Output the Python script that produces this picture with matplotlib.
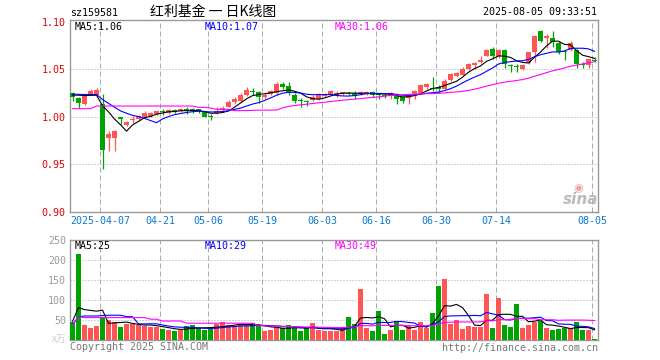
import pandas as pd
import matplotlib
matplotlib.use('Agg')
import matplotlib.pyplot as plt

plt.rcParams['font.family'] = ['DejaVu Sans Mono', 'Noto Sans CJK SC']

# tick dates and the bar they sit on
tick_labels = ['2025-04-07', '04-21', '05-06', '05-19', '06-03', '06-16', '06-30', '07-14', '08-05']
tick_bars = [5, 15, 23, 32, 42, 51, 61, 71, 87]

open_ = [1.0253, 1.0193, 1.0134, 1.0239, 1.0228, 1.0134, 0.9780, 0.9780, 0.9993, 0.9916,
         0.9965, 0.9972, 0.9993, 1.0007, 1.0028, 1.0063, 1.0042, 1.0070, 1.0056, 1.0084,
         1.0077, 1.0077, 1.0056, 1.0011, 1.0042, 1.0070, 1.0105, 1.0150, 1.0168, 1.0224,
         1.0274, 1.0260, 1.0211, 1.0240, 1.0253, 1.0344, 1.0323, 1.0224, 1.0176, 1.0160,
         1.0175, 1.0190, 1.0218, 1.0224, 1.0232, 1.0239, 1.0250, 1.0246, 1.0239, 1.0239,
         1.0260, 1.0239, 1.0232, 1.0218, 1.0232, 1.0203, 1.0197, 1.0239, 1.0246, 1.0309,
         1.0302, 1.0316, 1.0290, 1.0386, 1.0428, 1.0442, 1.0502, 1.0544, 1.0572, 1.0642,
         1.0712, 1.0642, 1.0698, 1.0537, 1.0537, 1.0502, 1.0565, 1.0677, 1.0900, 1.0825,
         1.0830, 1.0776, 1.0684, 1.0698, 1.0705, 1.0551, 1.0544, 1.0597]
high = [1.0263, 1.0203, 1.0238, 1.0288, 1.0298, 1.0240, 0.9845, 0.9860, 1.0000, 0.9958,
        1.0010, 1.0021, 1.0056, 1.0053, 1.0063, 1.0084, 1.0084, 1.0084, 1.0095, 1.0098,
        1.0091, 1.0084, 1.0063, 1.0028, 1.0098, 1.0112, 1.0172, 1.0211, 1.0245, 1.0309,
        1.0302, 1.0274, 1.0253, 1.0280, 1.0365, 1.0365, 1.0365, 1.0253, 1.0196, 1.0175,
        1.0224, 1.0245, 1.0253, 1.0280, 1.0274, 1.0263, 1.0260, 1.0274, 1.0274, 1.0274,
        1.0274, 1.0246, 1.0246, 1.0260, 1.0246, 1.0218, 1.0253, 1.0281, 1.0344, 1.0358,
        1.0421, 1.0330, 1.0393, 1.0463, 1.0470, 1.0519, 1.0565, 1.0579, 1.0635, 1.0712,
        1.0733, 1.0712, 1.0712, 1.0558, 1.0558, 1.0551, 1.0677, 1.0860, 1.0915, 1.0867,
        1.0897, 1.0797, 1.0690, 1.0797, 1.0712, 1.0579, 1.0607, 1.0628]
low = [1.0170, 1.0095, 1.0125, 1.0232, 1.0221, 0.9450, 0.9640, 0.9635, 0.9920, 0.9905,
       0.9930, 0.9970, 0.9986, 1.0000, 1.0020, 1.0021, 1.0028, 1.0035, 1.0050, 1.0030,
       1.0035, 1.0035, 0.9993, 0.9965, 1.0028, 1.0056, 1.0098, 1.0133, 1.0150, 1.0217,
       1.0232, 1.0147, 1.0189, 1.0225, 1.0232, 1.0295, 1.0225, 1.0147, 1.0105, 1.0112,
       1.0160, 1.0175, 1.0205, 1.0224, 1.0211, 1.0228, 1.0232, 1.0182, 1.0225, 1.0225,
       1.0205, 1.0182, 1.0197, 1.0182, 1.0133, 1.0147, 1.0133, 1.0190, 1.0239, 1.0291,
       1.0267, 1.0253, 1.0288, 1.0379, 1.0421, 1.0435, 1.0495, 1.0502, 1.0565, 1.0635,
       1.0607, 1.0614, 1.0509, 1.0467, 1.0474, 1.0495, 1.0558, 1.0570, 1.0783, 1.0723,
       1.0730, 1.0660, 1.0592, 1.0690, 1.0512, 1.0509, 1.0509, 1.0572]
close = [1.0204, 1.0140, 1.0228, 1.0274, 1.0281, 0.9653, 0.9818, 0.9850, 0.9972, 0.9944,
         0.9980, 1.0007, 1.0042, 1.0042, 1.0056, 1.0049, 1.0070, 1.0053, 1.0084, 1.0063,
         1.0056, 1.0063, 1.0000, 1.0000, 1.0063, 1.0091, 1.0150, 1.0190, 1.0224, 1.0280,
         1.0263, 1.0210, 1.0232, 1.0267, 1.0344, 1.0309, 1.0253, 1.0168, 1.0165, 1.0151,
         1.0210, 1.0224, 1.0232, 1.0267, 1.0253, 1.0256, 1.0242, 1.0218, 1.0260, 1.0260,
         1.0232, 1.0225, 1.0218, 1.0253, 1.0182, 1.0160, 1.0239, 1.0274, 1.0337, 1.0344,
         1.0288, 1.0288, 1.0379, 1.0450, 1.0456, 1.0505, 1.0550, 1.0565, 1.0593, 1.0698,
         1.0635, 1.0705, 1.0550, 1.0530, 1.0523, 1.0544, 1.0677, 1.0853, 1.0800, 1.0846,
         1.0790, 1.0685, 1.0680, 1.0775, 1.0550, 1.0544, 1.0607, 1.0590]
volume = [44, 215, 37.5, 29, 35, 57, 50, 44, 32.5, 41,
          40, 37.5, 36, 33, 33, 27.5, 25, 22.5, 25, 36,
          37.5, 29, 25, 27.5, 41, 44, 37.5, 36, 37.5, 38,
          41.5, 37.5, 22.5, 25, 33, 29, 38, 29, 22.5, 29,
          42.5, 24, 22.5, 22.5, 22.5, 29, 57, 39, 127.5, 29,
          22.5, 72.5, 15, 25, 47.5, 25, 36, 25, 45, 29,
          67.5, 135, 152.5, 40, 50, 28, 36, 33, 33, 115,
          30, 106, 38, 32, 90, 30, 38, 45, 47.5, 30,
          25, 27, 30, 30, 44, 25, 25, 3]

# moving-average values before enough bars exist
ma5_head = [1.0228, 1.0226, 1.0222, 1.0224]
ma10_head = [1.0235, 1.0235, 1.0233, 1.0233, 1.0233, 1.0180, 1.0140, 1.0100, 1.0060]
ma30_head = [1.0084, 1.0084, 1.0084, 1.0084, 1.0112, 1.0112, 1.0112, 1.0112, 1.0112, 1.0112,
             1.0112, 1.0112, 1.0112, 1.0112, 1.0112, 1.0112, 1.0112, 1.0112, 1.0112, 1.0112,
             1.0112, 1.0098, 1.0098, 1.0091, 1.0077, 1.0077, 1.0077, 1.0063, 1.0063]
vma5_head = [47, 81, 76, 74]
vma10_head = [39, 58, 60, 60, 60, 61, 62, 62, 62]
vma30_head = [37.5, 58, 56, 56, 56, 56, 56, 56, 56, 56,
              56, 56, 56, 52, 52, 47.5, 47.5, 47.5, 47.5, 42,
              42, 42, 42, 42, 42, 42, 42, 42, 42]

RED = '#ff5555'
GREEN = '#00a400'
GRID = '#aaaaaa'


def moving(values, n, head):
    s = pd.Series(values, dtype=float).rolling(n).mean()
    s.iloc[:len(head)] = head
    return s


def frame(ax):
    for sp in ax.spines.values():
        sp.set_color('#999999')
        sp.set_linewidth(1.0)
    ax.tick_params(length=0)
    for b in tick_bars:
        ax.axvline(b - 0.42, color=GRID, lw=0.72, dashes=(5, 3), zorder=1)


n = len(close)
xs = list(range(n))
up = [c >= o for o, c in zip(open_, close)]
colors = [RED if u else GREEN for u in up]

fig = plt.figure(figsize=(6.6, 3.6), dpi=100)
W, H = 660.0, 360.0
ax = fig.add_axes([70 / W, 1 - 212 / H, 528 / W, 192 / H])
axv = fig.add_axes([70 / W, 1 - 340 / H, 528 / W, 100 / H])

# price panel
frame(ax)
for lvl in [0.95, 1.00, 1.05]:
    ax.axhline(lvl, color=GRID, lw=0.72, dashes=(1, 2), zorder=1)
ax.vlines(xs, low, high, colors=colors, lw=0.9, zorder=2)
bottoms = [min(o, c) for o, c in zip(open_, close)]
heights = [max(abs(c - o), 0.0011) for o, c in zip(open_, close)]
ax.bar(xs, heights, bottom=bottoms, width=0.84, color=colors, zorder=3)
ax.plot(xs, moving(close, 5, ma5_head), color='black', lw=0.8, zorder=4)
ax.plot(xs, moving(close, 10, ma10_head), color='#0000ff', lw=0.8, zorder=4)
ax.plot(xs, moving(close, 30, ma30_head), color='#ff00ff', lw=0.8, zorder=4)
ax.set_xlim(-0.42, 87.58)
ax.set_ylim(0.8997, 1.1017)
ax.set_yticks([0.90, 0.95, 1.00, 1.05, 1.10])
ax.set_yticklabels(['0.90', '0.95', '1.00', '1.05', '1.10'], color='#e00000', fontsize=7.2)
ax.set_xticks([b - 0.42 for b in tick_bars])
ax.set_xticklabels(tick_labels, color='#0a78d2', fontsize=7.2)
ax.tick_params(axis='y', pad=3)
ax.tick_params(axis='x', pad=3)

# volume panel
frame(axv)
for lvl in [50, 100, 150, 200]:
    axv.axhline(lvl, color=GRID, lw=0.72, dashes=(1, 2), zorder=1)
axv.bar(xs, volume, width=0.84, color=colors, zorder=3)
axv.plot(xs, moving(volume, 5, vma5_head), color='black', lw=0.8, zorder=4)
axv.plot(xs, moving(volume, 10, vma10_head), color='#0000ff', lw=0.8, zorder=4)
axv.plot(xs, moving(volume, 30, vma30_head), color='#ff00ff', lw=0.8, zorder=4)
axv.set_xlim(-0.42, 87.58)
axv.set_ylim(0, 250)
axv.set_yticks([50, 100, 150, 200, 250])
axv.set_yticklabels(['50', '100', '150', '200', '250'], color='#999999', fontsize=7.2)
axv.set_xticks([])
axv.tick_params(axis='y', pad=3)


def put(x, y, s, **kw):
    fig.text(x / W, 1 - y / H, s, va='center', **kw)


put(70, 13, 'sz159581', fontsize=7.2)
put(213, 12, '红利基金 一 日K线图', fontsize=10, ha='center',
    family=['Noto Sans CJK SC', 'DejaVu Sans'])
put(597, 12, '2025-08-05 09:33:51', fontsize=7.2, ha='right')

put(75, 27, 'MA5:1.06', fontsize=7.2, color='black')
put(205, 27, 'MA10:1.07', fontsize=7.2, color='#0000ff')
put(335, 27, 'MA30:1.06', fontsize=7.2, color='#ff00ff')
put(75, 246, 'MA5:25', fontsize=7.2, color='black')
put(205, 246, 'MA10:29', fontsize=7.2, color='#0000ff')
put(335, 246, 'MA30:49', fontsize=7.2, color='#ff00ff')

put(66, 339, 'x万', fontsize=7, ha='right', color='#cccccc',
    family=['Noto Sans CJK SC', 'DejaVu Sans'])
put(70, 347, 'Copyright 2025 SINA.COM', fontsize=7.2, color='#777777')
put(598, 348, 'http://finance.sina.com.cn', fontsize=7.2, ha='right', color='#777777')

# faint sina watermark
put(581, 199, 'sina', fontsize=11, ha='center', color='#bbbbbb',
    style='italic', weight='bold', family='DejaVu Sans')
put(578, 188, '◉', fontsize=8, ha='center', color='#f4a0a0', family='DejaVu Sans')

fig.savefig('out.png', dpi=100)
